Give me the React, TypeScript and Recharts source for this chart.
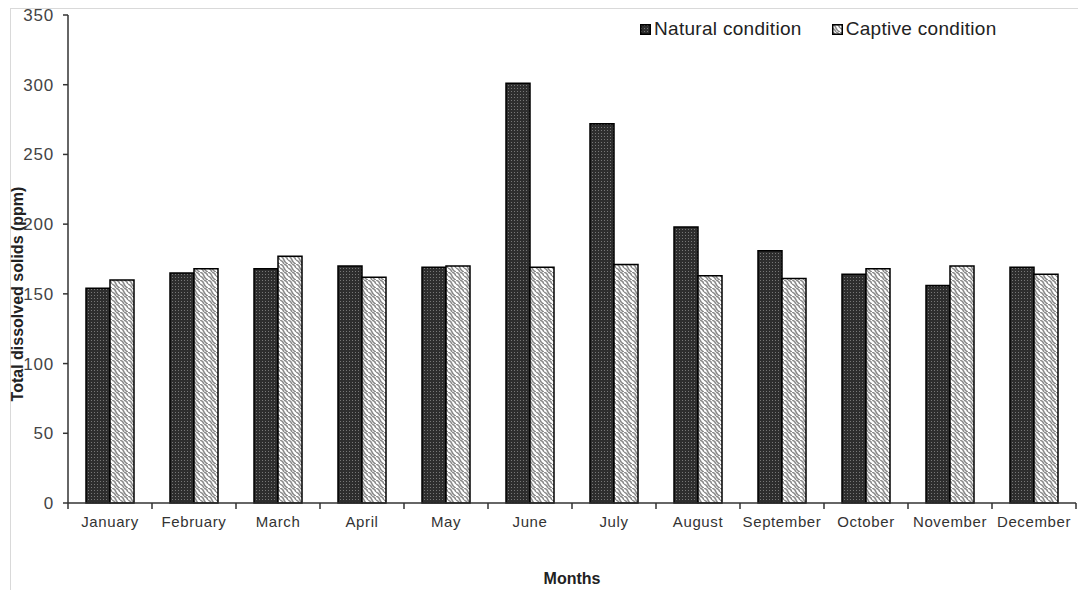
import { BarChart, Bar, XAxis, YAxis } from 'recharts'

const months = ['January', 'February', 'March', 'April', 'May', 'June', 'July', 'August', 'September', 'October', 'November', 'December']
const natural = [154, 165, 168, 170, 169, 301, 272, 198, 181, 164, 156, 169]
const captive = [160, 168, 177, 162, 170, 169, 171, 163, 161, 168, 170, 164]
const yTicks = [0, 50, 100, 150, 200, 250, 300, 350]
const seriesNames = ['Natural condition', 'Captive condition']

const data = months.map((m, i) => ({ month: m, natural: natural[i], captive: captive[i] }))

const FONT = '"Liberation Sans", Arial, sans-serif'
const HALF_BAND = 42

function MonthTick(props: any) {
  const { x, y, payload, index } = props
  return (
    <g>
      <line x1={x - HALF_BAND} y1={y - 8} x2={x - HALF_BAND} y2={y - 2} stroke="#333" strokeWidth={1.5} />
      {index === months.length - 1 && (
        <line x1={x + HALF_BAND} y1={y - 8} x2={x + HALF_BAND} y2={y - 2} stroke="#333" strokeWidth={1.5} />
      )}
      <text x={x} y={y + 16} textAnchor="middle" fill="#333" fontSize={15} letterSpacing={0.6} fontFamily={FONT}>
        {payload.value}
      </text>
    </g>
  )
}

function YTitle(props: any) {
  const { viewBox } = props
  const cx = 19
  const cy = viewBox.y + viewBox.height / 2 + 35
  return (
    <text x={cx} y={cy} transform={`rotate(-90 ${cx} ${cy})`} textAnchor="middle" dominantBaseline="middle"
      fontWeight="bold" fontSize={16} fill="#222" fontFamily={FONT}>
      Total dissolved solids (ppm)
    </text>
  )
}

function LegendBox() {
  const fills = ['url(#natPat)', 'url(#capPat)']
  return (
    <div style={{ position: 'absolute', left: 640, top: 18, display: 'flex', gap: 30, fontFamily: FONT, fontSize: 19, color: '#222', letterSpacing: 0.3 }}>
      {seriesNames.map((name, i) => (
        <div key={name} style={{ display: 'flex', alignItems: 'center', gap: 3 }}>
          <svg width={11} height={11}>
            <rect x={0.75} y={0.75} width={9.5} height={9.5} fill={fills[i]} stroke="#000" strokeWidth={1.5} />
          </svg>
          <span>{name}</span>
        </div>
      ))}
    </div>
  )
}

export default function App() {
  return (
    <div style={{ position: 'absolute', left: 0, top: 0, width: 1078, height: 590, background: '#fff' }}>
      <div style={{ position: 'absolute', left: 10, top: 8, right: 0, bottom: 0, borderTop: '1px solid #d9d9d9', borderLeft: '1px solid #d9d9d9' }} />
      <BarChart width={1078} height={590} data={data} margin={{ top: 15, right: 2, bottom: 0, left: 0 }}
        barGap={0} barCategoryGap={18} style={{ position: 'absolute', left: 0, top: 0 }}>
        <defs>
          <pattern id="natPat" width={3} height={3} patternUnits="userSpaceOnUse">
            <rect width={3} height={3} fill="#2e2e2e" />
            <rect x={1} y={1} width={1} height={1} fill="#777" />
          </pattern>
          <pattern id="capPat" width={8} height={8} patternUnits="userSpaceOnUse">
            <rect width={8} height={8} fill="#fff" />
            <path d="M0,0 Q3,1 4,4 T8,8" fill="none" stroke="#8c8c8c" strokeWidth={1.6} />
            <path d="M4,0 Q7,1 8,4" fill="none" stroke="#8c8c8c" strokeWidth={1.6} />
            <path d="M0,4 Q3,5 4,8" fill="none" stroke="#8c8c8c" strokeWidth={1.6} />
          </pattern>
        </defs>
        <XAxis dataKey="month" height={87} tick={<MonthTick />} tickLine={false} interval={0}
          axisLine={{ stroke: '#333', strokeWidth: 1.5 }}
          label={{ value: 'Months', position: 'insideBottom', offset: 6, fontWeight: 'bold', fontSize: 16, fill: '#222', fontFamily: FONT }} />
        <YAxis width={68} domain={[0, 350]} ticks={yTicks} interval={0} tickSize={5} tickMargin={9}
          axisLine={{ stroke: '#333', strokeWidth: 1.5 }} tickLine={{ stroke: '#333', strokeWidth: 1.5 }}
          tick={{ fill: '#444', fontSize: 17, fontFamily: FONT, letterSpacing: 0.8 }}
          label={<YTitle />} />
        <Bar dataKey="natural" name={seriesNames[0]} barSize={24} fill="url(#natPat)" stroke="#000" strokeWidth={1.5} isAnimationActive={false} />
        <Bar dataKey="captive" name={seriesNames[1]} barSize={24} fill="url(#capPat)" stroke="#000" strokeWidth={1.5} isAnimationActive={false} />
      </BarChart>
      <LegendBox />
    </div>
  )
}
